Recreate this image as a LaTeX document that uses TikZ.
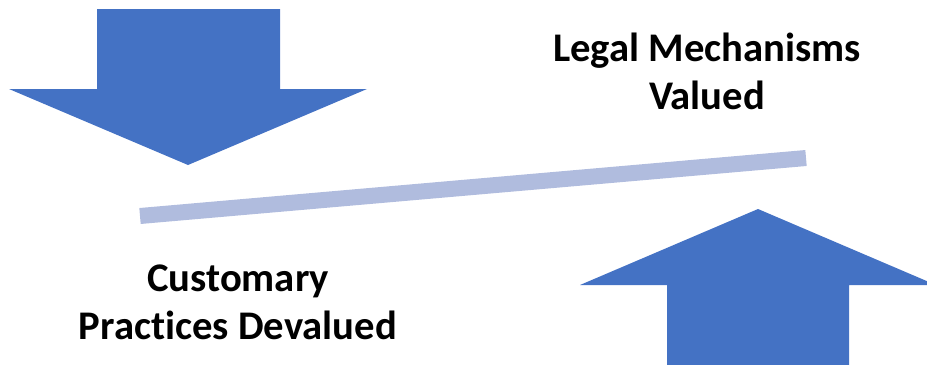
\documentclass[tikz,border=0pt]{standalone}
\usepackage{fontspec}
\setmainfont{Carlito}[Ligatures=NoCommon]
\definecolor{arrowblue}{HTML}{4472C4}
\definecolor{beamblue}{HTML}{B0BCDE}
\tikzset{
  bigarrow/.style={fill=arrowblue, draw=none},
  beam/.style={draw=beamblue, line width=12pt, line cap=butt},
  caption/.style={align=center, font=\fontsize{30.5}{36}\selectfont\bfseries, inner sep=0pt}
}

\begin{document}
\begin{tikzpicture}[x=0.75pt, y=-0.75pt]
\useasboundingbox (0,0) rectangle (927,364);
\clip (0,0) rectangle (927,364);
% down arrow, upper left
\fill[bigarrow] (97,9) -- (280,9) -- (280,89) -- (367,89) -- (188,165)
  -- (9,89) -- (97,89) -- cycle;
% up arrow, lower right
\fill[bigarrow] (758,209) -- (936,285) -- (849,285) -- (849,370)
  -- (667,370) -- (667,285) -- (580,285) -- cycle;
% tilted beam
\coordinate (beamL) at (140,216);
\coordinate (beamR) at (806,158);
\draw[beam] (beamL) -- (beamR);
% labels
\node[caption] (legal) at (707,71) {Legal Mechanisms\\Valued};
\node[caption] (customary) at (238,302) {Customary\\Practices Devalued};
\end{tikzpicture}
\end{document}
